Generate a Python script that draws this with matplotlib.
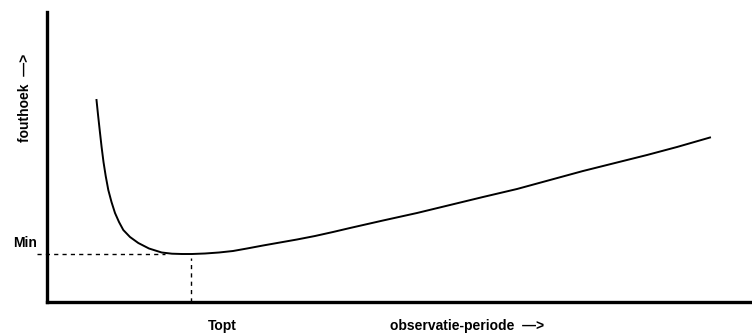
import numpy as np
from matplotlib import pyplot as plt

plt.rcParams['font.family'] = ['Liberation Sans', 'DejaVu Sans']

periode = [49.5, 51, 52.8, 54.6, 56.5, 58.7, 61.3, 64.5, 68, 72, 76.3, 83, 91.3, 102, 114.7, 125,
           135, 145, 158, 172, 186, 200, 216, 233, 250, 268, 286, 303, 336, 370, 403, 436, 470,
           503, 536, 570, 600, 630, 663]
fouthoek = [202, 187.5, 171, 155, 140, 126, 112, 100, 89, 80, 72, 65, 59, 53.5, 49.5, 48.3,
            48, 48, 48.5, 49.5, 51, 53.5, 56.5, 59.5, 62.5, 66, 70, 74, 81.5, 89, 97, 105, 113,
            122, 131, 139.5, 147, 155, 164.5]

t_opt = 144
min_val = 48

fig = plt.figure(figsize=(7.52, 3.36), dpi=100)
ax = fig.add_axes([47 / 752, 34 / 336, 705 / 752, 290 / 336])
ax.set_xlim(0, 705)
ax.set_ylim(0, 290)

ax.plot(periode, fouthoek, color='black', lw=1.4, solid_joinstyle='round')

# dashed guides to Min and Topt
ax.plot([-10, 118], [min_val, min_val], color='black', lw=1, ls=(0, (3, 3)), clip_on=False)
ax.plot([t_opt, t_opt], [0, min_val - 4], color='black', lw=1, ls=(0, (3, 3)))

for s in ['top', 'right']:
    ax.spines[s].set_visible(False)
for s in ['left', 'bottom']:
    ax.spines[s].set_linewidth(2.4)
ax.set_xticks([])
ax.set_yticks([])

fig.text(25 / 752, 1 - 98 / 336, 'fouthoek  \u2014>', rotation=90, ha='center', va='center',
         fontsize=10, fontweight='bold')
fig.text(25 / 752, 1 - 243 / 336, 'Min', ha='center', va='center', fontsize=10, fontweight='bold')
fig.text(222 / 752, 1 - 326 / 336, 'Topt', ha='center', va='center', fontsize=10, fontweight='bold')
fig.text(467 / 752, 1 - 326 / 336, 'observatie-periode  \u2014>', ha='center', va='center',
         fontsize=10, fontweight='bold')

plt.savefig('out.png', dpi=100)
